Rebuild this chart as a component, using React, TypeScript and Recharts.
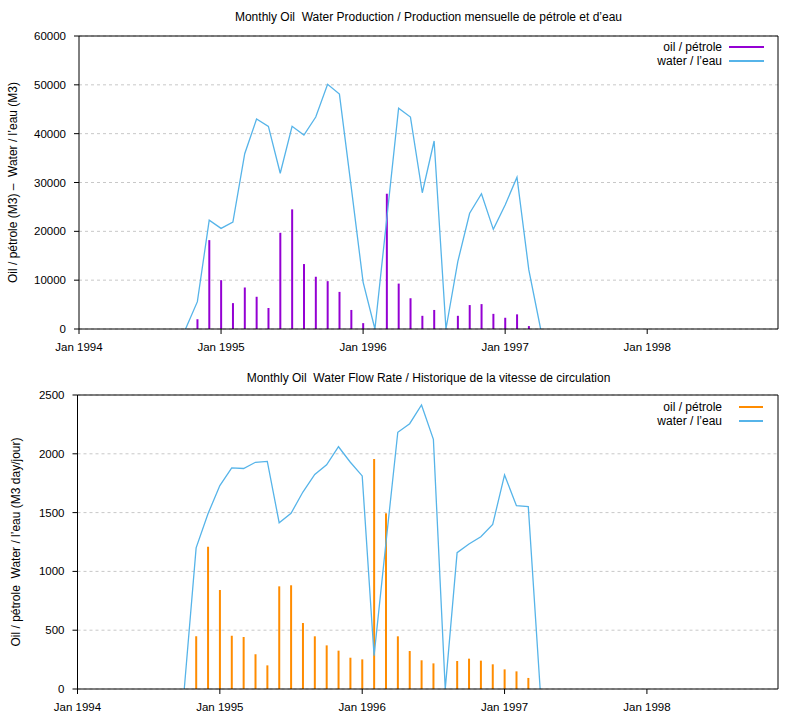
import React from "react";
import {
  ComposedChart,
  Bar,
  Line,
  XAxis,
  YAxis,
  CartesianGrid,
  Legend,
  Label,
} from "recharts";

// Month index: 0 = Jan 1994
const monthIndex = [
  9, 10, 11, 12, 13, 14, 15, 16, 17, 18, 19, 20, 21, 22, 23, 24, 25, 26, 27, 28,
  29, 30, 31, 32, 33, 34, 35, 36, 37, 38, 39,
];

const oilProduction = [
  null, 2000, 18200, 10000, 5300, 8500, 6600, 4300, 19700, 24500, 13300, 10700,
  9800, 7600, 3900, 1200, null, 27700, 9300, 6300, 2700, 3900, null, 2700, 4900,
  5100, 3100, 2300, 3000, 600, null,
];

const waterProduction = [
  0, 5600, 22300, 20600, 21900, 35900, 43000, 41500, 31900, 41500, 39700, 43400,
  50100, 48100, 29000, 9600, 0, 22600, 45200, 43400, 27900, 38500, 0, 13800,
  23700, 27700, 20400, 25400, 31100, 12100, 0,
];

const oilRate = [
  null, 448, 1210, 842, 453, 442, 295, 201, 873, 882, 561, 448, 371, 326, 266,
  252, 1956, 1494, 448, 323, 244, 218, null, 238, 258, 241, 210, 167, 150, 94,
  null,
];

const waterRate = [
  0, 1200, 1490, 1730, 1880, 1875, 1928, 1936, 1414, 1494, 1675, 1825, 1907,
  2060, 1928, 1812, 283, 1240, 2183, 2256, 2415, 2123, 0, 1159, 1233, 1295, 1400,
  1820, 1559, 1550, 0,
];

const xTicks = [0, 12, 24, 36, 48];
const xTickLabels = ["Jan 1994", "Jan 1995", "Jan 1996", "Jan 1997", "Jan 1998"];

const prodTicks = [0, 10000, 20000, 30000, 40000, 50000, 60000];
const rateTicks = [0, 500, 1000, 1500, 2000, 2500];

const oilLabel = "oil / pétrole";
const waterLabel = "water / l’eau";

const prodData = monthIndex.map((m, i) => ({
  m,
  oil: oilProduction[i],
  water: waterProduction[i],
}));
const rateData = monthIndex.map((m, i) => ({
  m,
  oil: oilRate[i],
  water: waterRate[i],
}));

const FONT = "'Liberation Sans', Arial, Helvetica, sans-serif";
const BLUE = "#56b4e9";
const PURPLE = "#9400d3";
const ORANGE = "#ff8c00";

const fmtX = (v: number) => {
  const i = xTicks.indexOf(v);
  return i >= 0 ? xTickLabels[i] : "";
};

function makeLegend(oilColor: string, top: number, sampleLeft: number, sampleWidth: number) {
  return () => (
    <div style={{ position: "relative", width: 806, height: 0, fontFamily: FONT, fontSize: 12 }}>
      {[
        { label: oilLabel, color: oilColor },
        { label: waterLabel, color: BLUE },
      ].map((e, i) => (
        <div key={i}>
          <div
            style={{
              position: "absolute",
              right: 806 - 722,
              top: top + i * 14 - 7,
              lineHeight: "14px",
              whiteSpace: "nowrap",
              color: "#000",
            }}
          >
            {e.label}
          </div>
          <div
            style={{
              position: "absolute",
              left: sampleLeft,
              width: sampleWidth,
              top: top + i * 14 - (i === 0 ? 1 : 0.75),
              height: i === 0 ? 2 : 1.5,
              background: e.color,
            }}
          />
        </div>
      ))}
    </div>
  );
}

type PanelProps = {
  data: any[];
  ticks: number[];
  domainMax: number;
  oilColor: string;
  yLabel: string;
  labelOffset: number;
  leftWidth: number;
  marginTop: number;
  legendTop: number;
  sampleLeft: number;
  sampleWidth: number;
};

function Panel(p: PanelProps) {
  return (
    <ComposedChart
      width={806}
      height={360}
      data={p.data}
      margin={{ top: p.marginTop, right: 27, bottom: 6, left: 0 }}
    >
      <CartesianGrid
        xAxisId="bottom"
        yAxisId="left"
        vertical={false}
        stroke="#c8c8c8"
        strokeDasharray="3 3"
      />
      <XAxis
        xAxisId="bottom"
        dataKey="m"
        type="number"
        domain={[0, 59.05]}
        allowDataOverflow
        ticks={xTicks}
        tickFormatter={fmtX}
        interval={0}
        stroke="#000"
        tickSize={5}
        tickMargin={9}
        height={25}
        tick={{ fontSize: 11.5, fill: "#000", fontFamily: FONT }}
      />
      <XAxis
        xAxisId="top"
        dataKey="m"
        type="number"
        orientation="top"
        domain={[0, 59.05]}
        allowDataOverflow
        ticks={xTicks}
        interval={0}
        stroke="#000"
        tickSize={5}
        tick={false}
        height={1}
      />
      <YAxis
        yAxisId="left"
        domain={[0, p.domainMax]}
        ticks={p.ticks}
        interval={0}
        stroke="#000"
        tickSize={5}
        tickMargin={8}
        width={p.leftWidth}
        tick={{ fontSize: 11.5, fill: "#000", fontFamily: FONT }}
      >
        <Label
          value={p.yLabel}
          angle={-90}
          position="insideLeft"
          offset={p.labelOffset}
          style={{ textAnchor: "middle", fontSize: 12, fill: "#000", fontFamily: FONT }}
        />
      </YAxis>
      <YAxis
        yAxisId="right"
        orientation="right"
        domain={[0, p.domainMax]}
        ticks={p.ticks}
        interval={0}
        stroke="#000"
        tickSize={5}
        tick={false}
        width={1}
      />
      <Legend
        verticalAlign="middle"
        align="center"
        layout="horizontal"
        wrapperStyle={{ left: 0, top: 0, width: 806, height: 0 }}
        content={makeLegend(p.oilColor, p.legendTop, p.sampleLeft, p.sampleWidth)}
      />
      <Bar
        xAxisId="bottom"
        yAxisId="left"
        dataKey="oil"
        name={oilLabel}
        fill={p.oilColor}
        barSize={2}
        isAnimationActive={false}
      />
      <Line
        xAxisId="bottom"
        yAxisId="left"
        dataKey="water"
        name={waterLabel}
        type="linear"
        stroke={BLUE}
        strokeWidth={1.3}
        dot={false}
        activeDot={false}
        isAnimationActive={false}
      />
    </ComposedChart>
  );
}

const titleStyle: React.CSSProperties = {
  position: "absolute",
  left: 79,
  width: 699,
  textAlign: "center",
  fontFamily: FONT,
  fontSize: 12,
  whiteSpace: "pre",
  color: "#000",
  lineHeight: "14px",
};

export default function App() {
  return (
    <div
      style={{
        position: "absolute",
        left: 0,
        top: 0,
        width: 806,
        height: 720,
        background: "#fff",
        fontFamily: FONT,
      }}
    >
      <div style={{ ...titleStyle, top: 10 }}>
        {"Monthly Oil  Water Production / Production mensuelle de pétrole et d’eau"}
      </div>
      <div style={{ ...titleStyle, top: 371 }}>
        {"Monthly Oil  Water Flow Rate / Historique de la vitesse de circulation"}
      </div>
      <div style={{ position: "absolute", left: 0, top: 0 }}>
        <Panel
          data={prodData}
          ticks={prodTicks}
          domainMax={60000}
          oilColor={PURPLE}
          yLabel={"Oil / pétrole (M3) –\u00A0 Water / l’eau (M3)"}
          labelOffset={13}
          leftWidth={79}
          marginTop={35}
          legendTop={47}
          sampleLeft={729}
          sampleWidth={35}
        />
      </div>
      <div style={{ position: "absolute", left: 0, top: 360 }}>
        <Panel
          data={rateData}
          ticks={rateTicks}
          domainMax={2500}
          oilColor={ORANGE}
          yLabel={"Oil / pétrole\u00A0 Water / l’eau (M3 day/jour)"}
          labelOffset={16}
          leftWidth={77.5}
          marginTop={34}
          legendTop={47}
          sampleLeft={739}
          sampleWidth={24}
        />
      </div>
    </div>
  );
}
